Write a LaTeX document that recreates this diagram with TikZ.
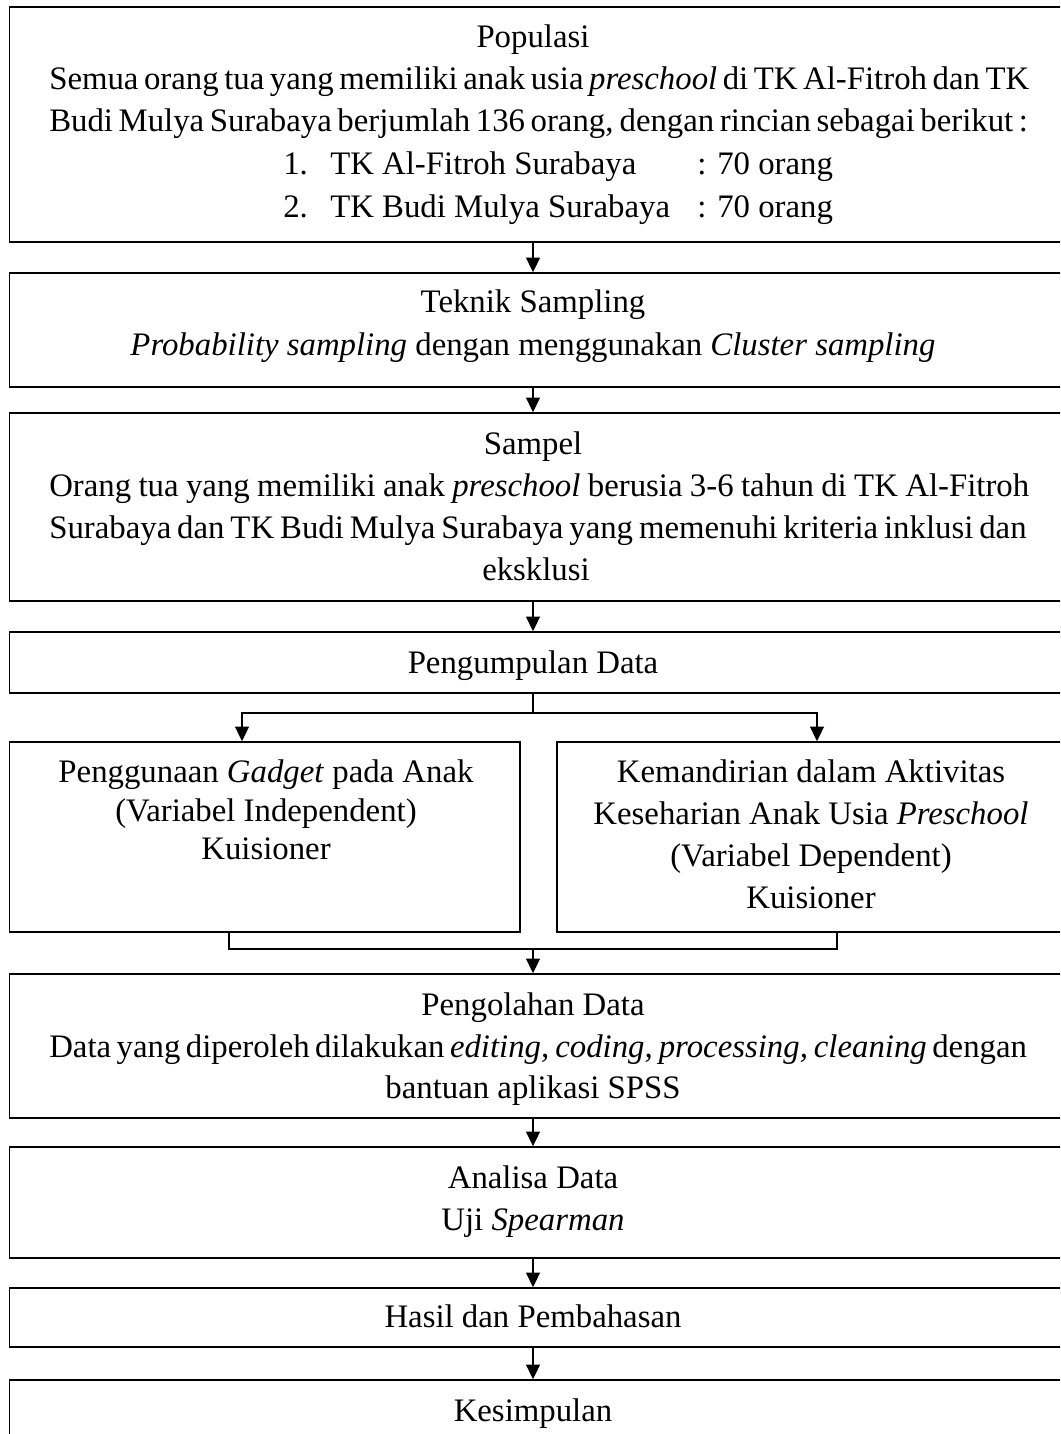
\documentclass[tikz,border=0pt]{standalone}
\usepackage{fontspec}
\setmainfont{Liberation Serif}
\usetikzlibrary{arrows.meta,fit}
\begin{document}
\begin{tikzpicture}[x=0.75pt,y=-0.75pt,
  box/.style={draw,line width=1.2pt,inner sep=0pt,fit={#1}},
  txt/.style={anchor=base,inner sep=0pt,font=\fontsize{24.6}{30}\selectfont},
  jtxt/.style={anchor=base west,inner sep=0pt,font=\fontsize{24.6}{30}\selectfont},
  conn/.style={line width=1pt},
  arr/.style={line width=1pt,-{Triangle[length=11pt,width=10.5pt]}}]
\clip (0,0) rectangle (1060,1434);
% boxes
\node[box={(9.5,7) (1068,242)}] (b1) {};
\node[box={(9.5,273) (1068,387)}] (b2) {};
\node[box={(9.5,413) (1068,601)}] (b3) {};
\node[box={(9.5,632) (1068,693)}] (b4) {};
\node[box={(9.5,742) (520,932)}] (b5L) {};
\node[box={(557,742) (1068,932)}] (b5R) {};
\node[box={(9.5,974) (1068,1118)}] (b6) {};
\node[box={(9.5,1147) (1068,1258)}] (b7) {};
\node[box={(9.5,1288) (1068,1347)}] (b8) {};
\node[box={(9.5,1380) (1068,1460)}] (b9) {};
% texts box 1
\node[txt] (t1a) at (533,48) {Populasi};
\node[jtxt] (t1b) at (49,90) {\makebox[735pt][s]{Semua orang tua yang memiliki anak usia \textit{preschool} di TK Al-Fitroh dan TK}};
\node[jtxt] (t1c) at (49,132) {\makebox[734pt][s]{Budi Mulya Surabaya berjumlah 136 orang, dengan rincian sebagai berikut :}};
\node[jtxt] (t1d) at (283,175) {1.};
\node[jtxt] (t1e) at (330,175) {TK Al-Fitroh Surabaya};
\node[jtxt] (t1f) at (697,175) {: 70 orang};
\node[jtxt] (t1g) at (283,217) {2.};
\node[jtxt] (t1h) at (330,217) {TK Budi Mulya Surabaya};
\node[jtxt] (t1i) at (697,217) {: 70 orang};
% box 2
\node[txt] (t2a) at (533,312) {Teknik Sampling};
\node[txt] (t2b) at (533,355) {\textit{Probability sampling} dengan menggunakan \textit{Cluster sampling}};
% box 3
\node[txt] (t3a) at (533,454) {Sampel};
\node[jtxt] (t3b) at (49,496) {\makebox[735pt][s]{Orang tua yang memiliki anak \textit{preschool} berusia 3-6 tahun di TK Al-Fitroh}};
\node[jtxt] (t3c) at (49,538) {\makebox[733pt][s]{Surabaya dan TK Budi Mulya Surabaya yang memenuhi kriteria inklusi dan}};
\node[txt] (t3d) at (536,580) {eksklusi};
% box 4
\node[txt] (t4) at (533,673) {Pengumpulan Data};
% box 5
\node[txt] (t5a) at (266,782) {Penggunaan \textit{Gadget} pada Anak};
\node[txt] (t5b) at (266,821) {(Variabel Independent)};
\node[txt] (t5c) at (266,859) {Kuisioner};
\node[txt] (t5d) at (811,782) {Kemandirian dalam Aktivitas};
\node[txt] (t5e) at (811,824) {Keseharian Anak Usia \textit{Preschool}};
\node[txt] (t5f) at (811,866) {(Variabel Dependent)};
\node[txt] (t5g) at (811,908) {Kuisioner};
% box 6
\node[txt] (t6a) at (533,1015) {Pengolahan Data};
\node[jtxt] (t6b) at (49,1057) {\makebox[733pt][s]{Data yang diperoleh dilakukan \textit{editing, coding, processing, cleaning} dengan}};
\node[txt] (t6c) at (533,1098) {bantuan aplikasi SPSS};
% box 7
\node[txt] (t7a) at (533,1188) {Analisa Data};
\node[txt] (t7b) at (533,1230) {Uji \textit{Spearman}};
% box 8
\node[txt] (t8) at (533,1327) {Hasil dan Pembahasan};
% box 9
\node[txt] (t9) at (533,1421) {Kesimpulan};
% connectors
\coordinate (ax) at (533,0);
\coordinate (sp) at (533,713);
\coordinate (spL) at (242,713);
\coordinate (spR) at (817,713);
\coordinate (mL) at (229,949);
\coordinate (mR) at (837,949);
\draw[arr] (b1.south -| ax) -- (b2.north -| ax);
\draw[arr] (b2.south -| ax) -- (b3.north -| ax);
\draw[arr] (b3.south -| ax) -- (b4.north -| ax);
\draw[conn] (b4.south -| ax) -- (sp);
\draw[arr] (sp) -| (spL |- b5L.north);
\draw[arr] (sp) -| (spR |- b5R.north);
\draw[conn] (mL |- b5L.south) -- (mL) -- (mR) -- (mR |- b5R.south);
\draw[arr] (ax |- mL) -- (b6.north -| ax);
\draw[arr] (b6.south -| ax) -- (b7.north -| ax);
\draw[arr] (b7.south -| ax) -- (b8.north -| ax);
\draw[arr] (b8.south -| ax) -- (b9.north -| ax);
\end{tikzpicture}
\end{document}
